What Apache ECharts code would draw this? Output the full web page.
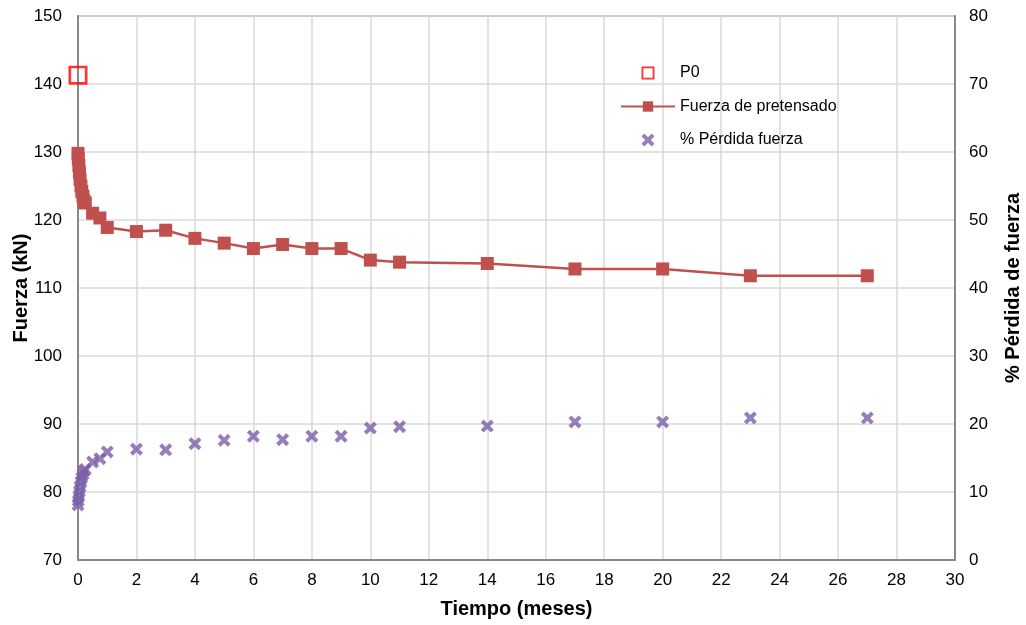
<!DOCTYPE html>
<html>
<head>
<meta charset="utf-8">
<script src="https://cdn.jsdelivr.net/npm/echarts@6/dist/echarts.min.js"></script>
<style>html,body{margin:0;padding:0;background:#fff}#c{width:1026px;height:625px}</style>
</head>
<body>
<div id="c"></div>
<script>
// Data
const tiempo = [0, 0.01, 0.03, 0.05, 0.07, 0.1, 0.13, 0.17, 0.2, 0.25, 0.5, 0.75, 1, 2, 3, 4, 5, 6, 7, 8, 9, 10, 11, 14, 17, 20, 23, 27];
const fuerza = [129.8, 129.0, 128.0, 127.0, 126.0, 125.0, 124.2, 123.5, 122.8, 122.5, 121.0, 120.3, 118.9, 118.3, 118.5, 117.3, 116.6, 115.8, 116.4, 115.8, 115.8, 114.1, 113.8, 113.6, 112.8, 112.8, 111.8, 111.8];
const perdida = [8.1, 8.7, 9.4, 10.1, 10.8, 11.5, 12.1, 12.6, 13.1, 13.3, 14.4, 14.9, 15.9, 16.3, 16.2, 17.1, 17.6, 18.2, 17.7, 18.2, 18.2, 19.4, 19.6, 19.7, 20.3, 20.3, 20.9, 20.9];
const p0 = [[0, 141.3]];
const seriesNames = ['P0', 'Fuerza de pretensado', '% Pérdida fuerza'];

const chart = echarts.init(document.getElementById('c'));
const font = 'Liberation Sans, Arial, sans-serif';
const xShape = 'path://M0,2.2 L2.2,0 L5,2.8 L7.8,0 L10,2.2 L7.2,5 L10,7.8 L7.8,10 L5,7.2 L2.2,10 L0,7.8 L2.8,5 Z';
const hollowSq = 'path://M0,0 H10 V10 H0 Z M1.4,1.4 V8.6 H8.6 V1.4 Z';
const gridLine = {show: true, lineStyle: {color: '#d9d9d9', width: 1.5}};
const axisLine = {show: true, onZero: false, lineStyle: {color: '#898989', width: 2}};

chart.setOption({
  animation: false,
  textStyle: {fontFamily: font},
  grid: {left: 78, right: 71, top: 16, bottom: 65, outerBoundsMode: 'none', containLabel: false,
         show: true, borderColor: '#898989', borderWidth: 1.5},
  legend: {
    orient: 'vertical', left: 615, top: 60, itemWidth: 54, itemHeight: 13, itemGap: 17.5,
    textStyle: {fontSize: 16, color: '#000', fontFamily: font},
    symbolKeepAspect: true,
    data: [{name: seriesNames[0], icon: hollowSq}, seriesNames[1], seriesNames[2]]
  },
  xAxis: {
    type: 'value', min: 0, max: 30, interval: 2,
    name: 'Tiempo (meses)', nameLocation: 'middle', nameGap: 39,
    nameTextStyle: {fontSize: 20, fontWeight: 'bold', color: '#000'},
    axisLine: axisLine, axisTick: {show: false},
    axisLabel: {fontSize: 17, color: '#000', margin: 12},
    splitLine: gridLine
  },
  yAxis: [{
    type: 'value', min: 70, max: 150, interval: 10,
    name: 'Fuerza (kN)', nameLocation: 'middle', nameGap: 47, nameMoveOverlap: false,
    nameTextStyle: {fontSize: 20, fontWeight: 'bold', color: '#000'},
    axisLine: axisLine, axisTick: {show: false},
    axisLabel: {fontSize: 17, color: '#000', margin: 16},
    splitLine: gridLine
  }, {
    type: 'value', min: 0, max: 80, interval: 10, position: 'right',
    name: '% Pérdida de fuerza', nameLocation: 'middle', nameGap: 48,
    nameTextStyle: {fontSize: 20, fontWeight: 'bold', color: '#000'},
    axisLine: axisLine, axisTick: {show: false},
    axisLabel: {fontSize: 17, color: '#000', margin: 14},
    splitLine: {show: false}
  }],
  series: [{
    name: seriesNames[0], type: 'scatter', yAxisIndex: 0,
    symbol: hollowSq, symbolSize: 19,
    itemStyle: {color: '#ff0000'},
    data: p0, z: 5
  }, {
    name: seriesNames[1], type: 'line', yAxisIndex: 0,
    symbol: 'rect', symbolSize: 13,
    lineStyle: {color: '#c0504d', width: 2.5},
    itemStyle: {color: '#c0504d'},
    data: tiempo.map((t, i) => [t, fuerza[i]])
  }, {
    name: seriesNames[2], type: 'scatter', yAxisIndex: 1,
    symbol: xShape, symbolSize: 13,
    itemStyle: {color: '#7b5ea7'},
    data: tiempo.map((t, i) => [t, perdida[i]])
  }]
});
</script>
</body>
</html>
